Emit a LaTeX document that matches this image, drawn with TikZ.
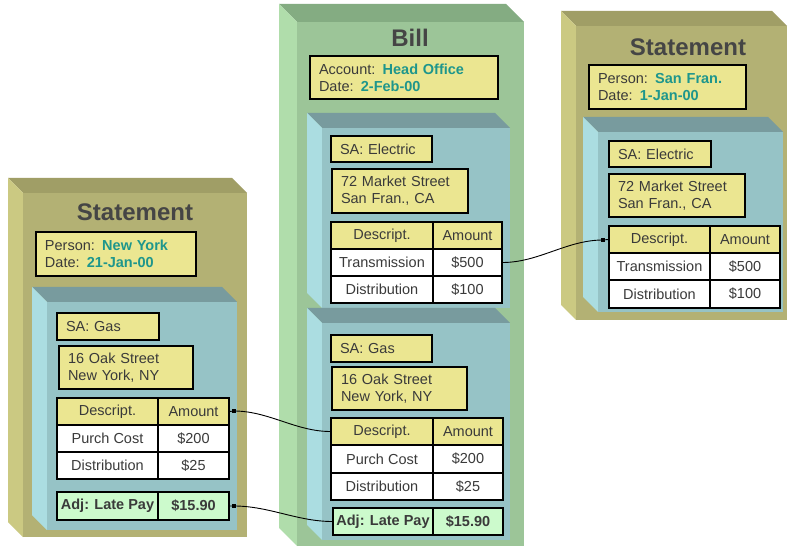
\documentclass[tikz,border=0pt]{standalone}
\usepackage{fontspec}
\setmainfont{Liberation Sans}
\definecolor{olF}{HTML}{B3B174}
\definecolor{olT}{HTML}{A09E66}
\definecolor{olL}{HTML}{CBC982}
\definecolor{grF}{HTML}{9CC598}
\definecolor{grT}{HTML}{84AC82}
\definecolor{grL}{HTML}{B0DDAB}
\definecolor{blF}{HTML}{96C3C6}
\definecolor{blT}{HTML}{789B9E}
\definecolor{blL}{HTML}{ABDDE1}
\definecolor{yel}{HTML}{EBE691}
\definecolor{adjc}{HTML}{CCFACC}
\definecolor{valc}{HTML}{1E968C}
\definecolor{txtc}{HTML}{3A3A3A}
\definecolor{ttlc}{HTML}{454545}
\newcommand\vv[1]{\textcolor{valc}{\textbf{#1}}}
\newcommand\slab[8]{%
  \fill[#7] ({#1-#5},{#2-#5}) -- ({#3-#5},{#2-#5}) -- (#3,#2) -- (#1,#2) -- cycle;
  \fill[#8] ({#1-#5},{#2-#5}) -- (#1,#2) -- (#1,#4) -- ({#1-#5},{#4-#5}) -- cycle;
  \fill[#6] (#1,#2) rectangle (#3,#4);}
\newcommand\cell[7]{%
  \pgfmathsetmacro\cw{#4-#2}\pgfmathsetmacro\ch{#5-#3}%
  \pgfmathsetmacro\cx{(#2+#4)/2}\pgfmathsetmacro\cy{(#3+#5)/2}%
  \node[#6, minimum width=\cw pt, minimum height=\ch pt] (#1) at (\cx,\cy) {#7};}
\newcommand\tbox[7]{%
  \pgfmathsetmacro\tw{#4-#2-2*#6}\pgfmathsetmacro\th{#5-#3}%
  \pgfmathsetmacro\cx{(#2+#4)/2}\pgfmathsetmacro\cy{(#3+#5)/2}%
  \node[ybox, text width=\tw pt, inner xsep=#6pt, minimum height=\th pt] (#1) at (\cx,\cy) {#7};}
\tikzset{
  ybox/.style={draw=black, line width=1.2pt, fill=yel, align=left, inner ysep=0pt,
    font=\fontsize{14.5}{17}\selectfont, text=txtc},
  hcell/.style={draw=black, line width=1.2pt, fill=yel, inner sep=0pt, font=\fontsize{14.5}{17}\selectfont, text=txtc},
  wcell/.style={draw=black, line width=1.2pt, fill=white, inner sep=0pt, font=\fontsize{14.5}{17}\selectfont, text=txtc},
  acell/.style={draw=black, line width=1.2pt, fill=adjc, inner sep=0pt, font=\fontsize{14.5}{17}\selectfont\bfseries, text=txtc},
  ttl/.style={font=\fontsize{24}{28}\selectfont\bfseries, text=ttlc, inner sep=0pt},
  conn/.style={draw=black, line width=0.9pt},
  dotm/.style={fill=black}
}
\begin{document}
\begin{tikzpicture}[x=1pt,y=-1pt]
\useasboundingbox (0,0) rectangle (788,548);
\fill[white] (0,0) rectangle (788,548);

% ---------- Left Statement ----------
\slab{23}{193}{247}{537}{15}{olF}{olT}{olL}
\node[ttl] (ltitle) at (135,212) {Statement};
\tbox{linfo}{36}{232}{196}{276}{9}{Person: \vv{New York}\\Date: \vv{21-Jan-00}}
\slab{47}{302}{237}{530}{15}{blF}{blT}{blL}
\tbox{lsa}{57}{313}{159}{340}{9}{SA: Gas}
\tbox{ladr}{59}{346}{193}{389}{9}{16 Oak Street\\New York, NY}
\cell{lh1}{57}{398}{158}{425}{hcell}{Descript.}
\cell{lh2}{158}{398}{229}{425}{hcell}{Amount}
\cell{la1}{57}{425}{158}{452}{wcell}{Purch Cost}
\cell{la2}{158}{425}{229}{452}{wcell}{\$200}
\cell{lb1}{57}{452}{158}{479}{wcell}{Distribution}
\cell{lb2}{158}{452}{229}{479}{wcell}{\$25}
\cell{lj1}{57}{492}{158}{520}{acell}{Adj: Late Pay}
\cell{lj2}{158}{492}{229}{520}{acell}{\$15.90}

% ---------- Bill ----------
\slab{297}{22}{524}{546}{18}{grF}{grT}{grL}
\node[ttl] (btitle) at (410,38) {Bill};
\tbox{binfo}{310}{56}{498}{99}{9}{Account: \vv{Head Office}\\Date: \vv{2-Feb-00}}
\slab{322}{128}{510}{308}{15}{blF}{blT}{blL}
\tbox{bsa1}{331}{136}{432}{162}{9}{SA: Electric}
\tbox{badr1}{332}{169}{468}{213}{9}{72 Market Street\\San Fran., CA}
\cell{bh1}{331}{222}{433}{249}{hcell}{Descript.}
\cell{bh2}{433}{222}{502}{249}{hcell}{Amount}
\cell{bt1}{331}{249}{433}{276}{wcell}{Transmission}
\cell{bt2}{433}{249}{502}{276}{wcell}{\$500}
\cell{bd1}{331}{276}{433}{303}{wcell}{Distribution}
\cell{bd2}{433}{276}{502}{303}{wcell}{\$100}
\slab{322}{323}{510}{540}{15}{blF}{blT}{blL}
\tbox{bsa2}{331}{335}{432}{362}{9}{SA: Gas}
\tbox{badr2}{332}{367}{467}{410}{9}{16 Oak Street\\New York, NY}
\cell{bg1}{331}{418}{433}{445}{hcell}{Descript.}
\cell{bg2}{433}{418}{503}{445}{hcell}{Amount}
\cell{bp1}{331}{445}{433}{473}{wcell}{Purch Cost}
\cell{bp2}{433}{445}{503}{473}{wcell}{\$200}
\cell{bq1}{331}{473}{433}{500}{wcell}{Distribution}
\cell{bq2}{433}{473}{503}{500}{wcell}{\$25}
\cell{bj1}{333}{508}{433}{535}{acell}{Adj: Late Pay}
\cell{bj2}{433}{508}{503}{535}{acell}{\$15.90}

% ---------- Right Statement ----------
\slab{576}{26}{787}{320}{15}{olF}{olT}{olL}
\node[ttl] (rtitle) at (688,47) {Statement};
\tbox{rinfo}{589}{65}{746}{109}{9}{Person: \vv{San Fran.}\\Date: \vv{1-Jan-00}}
\slab{598}{132}{783}{312}{15}{blF}{blT}{blL}
\tbox{rsa}{609}{141}{711}{167}{9}{SA: Electric}
\tbox{radr}{609}{174}{745}{217}{9}{72 Market Street\\San Fran., CA}
\cell{rh1}{609}{226}{710}{253}{hcell}{Descript.}
\cell{rh2}{710}{226}{780}{253}{hcell}{Amount}
\cell{rt1}{609}{253}{710}{280}{wcell}{Transmission}
\cell{rt2}{710}{253}{780}{280}{wcell}{\$500}
\cell{rd1}{609}{280}{710}{308}{wcell}{Distribution}
\cell{rd2}{710}{280}{780}{308}{wcell}{\$100}

% ---------- Connectors ----------
\coordinate (c1) at (234,411);
\coordinate (c2) at (234,506);
\coordinate (c3) at (603,240);
\draw[conn] (lh2.east) -- (c1) to[out=0,in=180,looseness=0.9] (bg1.west);
\draw[conn] (lj2.east) -- (c2) to[out=0,in=180,looseness=0.9] (bj1.west);
\draw[conn] (bt2.east) to[out=0,in=180,looseness=0.9] (c3) -- (rh1.west);
\fill[dotm] (c1) +(-2,-2) rectangle +(2,2);
\fill[dotm] (c2) +(-2,-2) rectangle +(2,2);
\fill[dotm] (c3) +(-2,-2) rectangle +(2,2);
\end{tikzpicture}
\end{document}
